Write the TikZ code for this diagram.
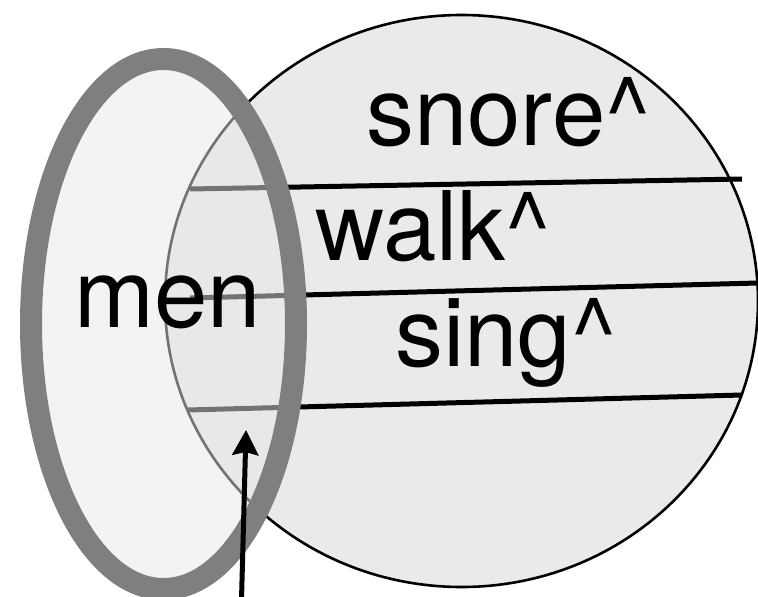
\documentclass[tikz,border=0pt]{standalone}
\usepackage{fontspec}
\setmainfont{TeX Gyre Heros}
\usetikzlibrary{shapes.geometric,arrows.meta}
\definecolor{setfill}{gray}{0.918}
\definecolor{menfill}{gray}{0.906}
\definecolor{menedge}{gray}{0.498}
\tikzset{
  bigset/.style={ellipse, draw=black, line width=2.6pt, fill=setfill, inner sep=0pt},
  menset/.style={ellipse, draw=menedge, line width=22pt, fill=menfill, fill opacity=0.5, draw opacity=1, inner sep=0pt},
  chord/.style={line width=5pt, black},
  word/.style={anchor=base west, inner sep=0pt, font=\fontsize{96}{100}\selectfont},
  pointer/.style={line width=5pt, -{Stealth[length=25pt, width=26pt, inset=3pt]}}
}
\begin{document}
\begin{tikzpicture}[x=1pt, y=-1pt]
  \useasboundingbox (0,0) rectangle (758,597);
  % the predicate set
  \node[bigset, minimum width=593pt, minimum height=572pt] (pred) at (461.5,301) {};
  % slices of the predicate set
  \coordinate (c1a) at (190,189); \coordinate (c1b) at (742,179);
  \coordinate (c2a) at (190,298); \coordinate (c2b) at (758,283);
  \coordinate (c3a) at (188,410); \coordinate (c3b) at (742,395);
  \draw[chord] (c1a) -- (c1b);
  \draw[chord] (c2a) -- (c2b);
  \draw[chord] (c3a) -- (c3b);
  % the set of men, laid over it
  \node[menset, minimum width=265pt, minimum height=530pt] (menset) at (163.5,324) {};
  % labels
  \node[word] (snore) at (366,145) {snore\textasciicircum};
  \node[word] (walk) at (315,260) {walk\textasciicircum};
  \node[word] (sing) at (395,366) {sing\textasciicircum};
  \node[word] (men) at (74,327) {men};
  % pointer into the overlap
  \coordinate (ptail) at (241.5,600);
  \coordinate (ptip) at (246,430);
  \draw[pointer] (ptail) -- (ptip);
\end{tikzpicture}
\end{document}
